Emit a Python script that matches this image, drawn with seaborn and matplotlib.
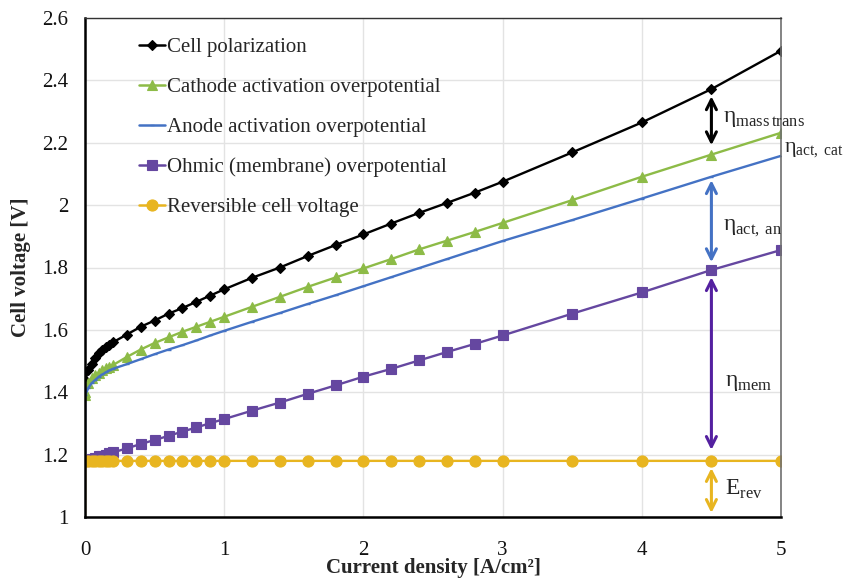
import matplotlib
matplotlib.use("Agg")
import matplotlib.pyplot as plt
import seaborn as sns
import pandas as pd

# ---- data ----
current_density = [0, 0.001, 0.025, 0.05, 0.075, 0.1, 0.125, 0.15, 0.175, 0.2,
                   0.3, 0.4, 0.5, 0.6, 0.7, 0.8, 0.9, 1.0,
                   1.2, 1.4, 1.6, 1.8, 2.0, 2.2, 2.4, 2.6, 2.8, 3.0,
                   3.5, 4.0, 4.5, 5.0]
cell_polarization = [1.43, 1.44, 1.47, 1.49, 1.51, 1.525, 1.535, 1.545, 1.553, 1.56,
                     1.585, 1.61, 1.63, 1.652, 1.67, 1.69, 1.71, 1.73,
                     1.767, 1.80, 1.837, 1.872, 1.906, 1.941, 1.975, 2.007, 2.04, 2.075,
                     2.169, 2.265, 2.372, 2.495]
cathode_activation = [1.39, 1.40, 1.43, 1.445, 1.455, 1.463, 1.47, 1.477, 1.482, 1.487,
                      1.513, 1.537, 1.558, 1.576, 1.594, 1.61, 1.626, 1.642,
                      1.674, 1.706, 1.738, 1.768, 1.797, 1.827, 1.858, 1.886, 1.914, 1.943,
                      2.016, 2.091, 2.162, 2.232]
anode_activation = [1.18, 1.39, 1.415, 1.43, 1.44, 1.45, 1.457, 1.464, 1.47, 1.475,
                    1.49, 1.506, 1.522, 1.537, 1.551, 1.566, 1.582, 1.597,
                    1.626, 1.654, 1.683, 1.711, 1.740, 1.769, 1.798, 1.827, 1.856, 1.885,
                    1.952, 2.021, 2.091, 2.158]
ohmic_membrane = [1.18, 1.18, 1.184, 1.187, 1.19, 1.194, 1.197, 1.2, 1.204, 1.207,
                  1.22, 1.234, 1.247, 1.26, 1.274, 1.287, 1.301, 1.314,
                  1.341, 1.367, 1.395, 1.422, 1.45, 1.475, 1.502, 1.529, 1.555, 1.582,
                  1.652, 1.72, 1.792, 1.856]
reversible_voltage = [1.0] + [1.18] * 31

series_names = ["Cell polarization", "Cathode activation overpotential",
                "Anode activation overpotential", "Ohmic (membrane) overpotential",
                "Reversible cell voltage"]
series_values = [cell_polarization, cathode_activation, anode_activation,
                 ohmic_membrane, reversible_voltage]

x_ticks = [0, 1, 2, 3, 4, 5]
y_ticks = [1, 1.2, 1.4, 1.6, 1.8, 2, 2.2, 2.4, 2.6]
y_tick_labels = ["1", "1.2", "1.4", "1.6", "1.8", "2", "2.2", "2.4", "2.6"]

# ---- style ----
sns.set_theme(style="white")
plt.rcParams["font.family"] = ["Liberation Serif", "DejaVu Serif"]
plt.rcParams["mathtext.fontset"] = "custom"
plt.rcParams["mathtext.rm"] = "Liberation Serif"

colors = ["#000000", "#8DBB47", "#4472C4", "#6547A0", "#E8B520"]
markers = ["D", "^", "_", "s", "o"]
msizes = [5, 7, 3, 6.5, 8]

fig = plt.figure(figsize=(8.45, 5.79), dpi=100)
ax = fig.add_axes([85 / 845, 1 - 517 / 579, (781 - 85) / 845, (517 - 18) / 579])

for name, vals, c, m, ms in zip(series_names, series_values, colors, markers, msizes):
    df = pd.DataFrame({"x": current_density, "y": vals})
    kw = {}
    if name.startswith("Reversible"):
        kw["markevery"] = slice(1, None)
    sns.lineplot(data=df, x="x", y="y", ax=ax, color=c, marker=m, markersize=ms,
                 markeredgecolor=c, markeredgewidth=0.8 if m != "_" else 1.0,
                 linewidth=1.7, label=name, sort=False, estimator=None, **kw)

ax.set_xlim(0, 5)
ax.set_ylim(1, 2.6)
ax.set_xticks(x_ticks)
ax.set_xticklabels([str(t) for t in x_ticks])
ax.set_yticks(y_ticks)
ax.set_yticklabels(y_tick_labels)
ax.grid(True, color="#E3E3E3", linewidth=1.0)
ax.set_axisbelow(True)
ax.tick_params(axis="both", labelsize=15, direction="in", length=5, width=1,
               colors="black")
ax.tick_params(axis="x", pad=17)
ax.tick_params(axis="y", pad=12)
for lab in ax.get_xticklabels() + ax.get_yticklabels():
    lab.set_color("#111111")

ax.spines["left"].set_color("black")
ax.spines["left"].set_linewidth(1.8)
ax.spines["bottom"].set_color("black")
ax.spines["bottom"].set_linewidth(1.8)
ax.spines["top"].set_color("#333333")
ax.spines["top"].set_linewidth(1.0)
ax.spines["right"].set_color("#707070")
ax.spines["right"].set_linewidth(1.2)

ax.set_xlabel("Current density [A/cm²]", fontsize=15, fontweight="bold", labelpad=-1)
ax.set_ylabel("Cell voltage [V]", fontsize=15, fontweight="bold", labelpad=8)

leg = ax.legend(loc="upper left", bbox_to_anchor=(0.065, 0.978), frameon=False,
                fontsize=15, handlelength=1.25, handletextpad=0.12, labelspacing=0.98,
                borderaxespad=0)
for h in leg.legend_handles:
    h.set_linewidth(1.8)

# ---- annotations ----
def darrow(x, y0, y1, color):
    ax.annotate("", xy=(x, y1), xytext=(x, y0),
                arrowprops=dict(arrowstyle="<->", color=color, lw=2.2,
                                mutation_scale=18, shrinkA=0, shrinkB=0))

darrow(4.5, 2.192, 2.349, "black")
darrow(4.5, 1.817, 2.080, "#4472C4")
darrow(4.5, 1.215, 1.769, "#5420A0")
darrow(4.5, 1.013, 1.157, "#E8B520")

tfs = 17
ax.text(4.58, 2.279, r"η$_{\mathrm{mass}\,\mathrm{trans}}$", fontsize=tfs, va="center", ha="left")
ax.text(5.025, 2.176, r"η$_{\mathrm{act,}\,\mathrm{cat}}$", fontsize=16, va="center", ha="left",
        clip_on=False)
ax.text(4.58, 1.926, r"η$_{\mathrm{act,}\,\mathrm{an}}$", fontsize=tfs, va="center", ha="left")
ax.text(4.6, 1.43, r"η$_{\mathrm{mem}}$", fontsize=tfs, va="center", ha="left")
ax.text(4.6, 1.087, r"E$_{\mathrm{rev}}$", fontsize=tfs, va="center", ha="left")

fig.savefig("out.png", dpi=100)
